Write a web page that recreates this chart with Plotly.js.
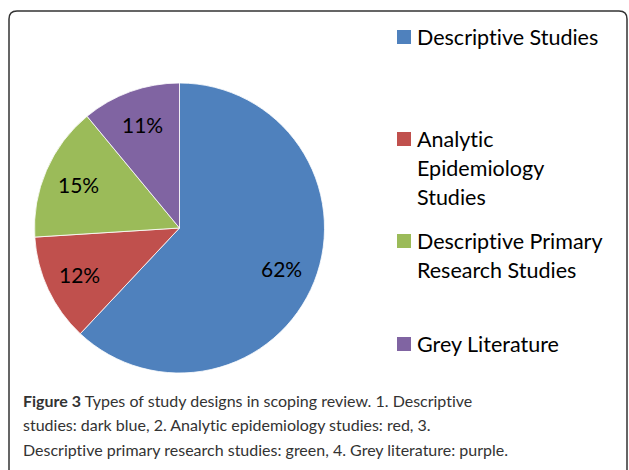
<!DOCTYPE html>
<html>
<head>
<meta charset="utf-8">
<script src="https://cdn.plot.ly/plotly-3.0.1.min.js"></script>
<style>
html,body{margin:0;padding:0;background:#fff;}
#chart{width:629px;height:470px;}
svg text{font-variant-ligatures:none !important;font-feature-settings:"liga" 0,"clig" 0 !important;}
</style>
</head>
<body>
<div id="chart"></div>
<script>
// Data
const categories = ["Descriptive Studies", "Analytic Epidemiology Studies", "Descriptive Primary Research Studies", "Grey Literature"];
const legendLines = [["Descriptive Studies"], ["Analytic", "Epidemiology", "Studies"], ["Descriptive Primary", "Research Studies"], ["Grey Literature"]];
const values = [62, 12, 15, 11];
const colors = ["#4F81BD", "#C0504D", "#9BBB59", "#8064A2"];
const captionLines = [
  "<b>Figure 3</b> Types of study designs in scoping review. 1. Descriptive",
  "studies: dark blue, 2. Analytic epidemiology studies: red, 3.",
  "Descriptive primary research studies: green, 4. Grey literature: purple."
];

const W = 629, H = 470;
const px = x => x / W;
const py = y => 1 - y / H;

// pie geometry (pixels)
const cx = 179.5, cy = 228, r = 145;
const FONT = "Lato, 'Open Sans', sans-serif";

const trace = {
  type: "pie",
  labels: categories,
  values: values,
  sort: false,
  direction: "clockwise",
  rotation: 0,
  marker: {colors: colors, line: {color: "#ffffff", width: 0.8}},
  textinfo: "none",
  domain: {x: [px(cx - r), px(cx + r)], y: [py(cy + r), py(cy - r)]},
  showlegend: false,
  hoverinfo: "label+percent"
};

const shapes = [];
const annotations = [];

// percent labels at mid-angle of each slice
const total = values.reduce((a, b) => a + b, 0);
let acc = 0;
values.forEach((v, i) => {
  const mid = (acc + v / 2) / total * 2 * Math.PI; // clockwise from top
  acc += v;
  const lr = 0.76 * r;
  const x = cx + lr * Math.sin(mid);
  const y = cy - lr * Math.cos(mid);
  annotations.push({xref: "paper", yref: "paper", x: px(x), y: py(y),
    xanchor: "center", yanchor: "middle", showarrow: false,
    text: Math.round(v / total * 100) + "%",
    font: {family: FONT, size: 21, color: "#000"}});
});

// legend
const legendY = [37, 139, 241, 344];
const lineGap = 29;
legendY.forEach((y, i) => {
  shapes.push({type: "rect", xref: "paper", yref: "paper",
    x0: px(397), x1: px(411), y0: py(y + 7), y1: py(y - 7),
    fillcolor: colors[i], line: {width: 0}});
  legendLines[i].forEach((t, j) => {
    annotations.push({xref: "paper", yref: "paper", x: px(415), y: py(y + j * lineGap),
      xanchor: "left", yanchor: "middle", align: "left", showarrow: false,
      text: t, font: {family: FONT, size: 21.5, color: "#000"}});
  });
});

// frame with rounded corners
const L = 9, T = 11, R = 627, B = 476, rr = 8;
const path = `M ${px(L)},${py(B)} L ${px(L)},${py(T + rr)} Q ${px(L)},${py(T)} ${px(L + rr)},${py(T)} L ${px(R - rr)},${py(T)} Q ${px(R)},${py(T)} ${px(R)},${py(T + rr)} L ${px(R)},${py(B)}`;
shapes.push({type: "path", xref: "paper", yref: "paper", path: path,
  line: {color: "#333333", width: 1.5}});

// caption
const capY = [400, 424.5, 449];
captionLines.forEach((t, i) => {
  annotations.push({xref: "paper", yref: "paper", x: px(21), y: py(capY[i]),
    xanchor: "left", yanchor: "middle", align: "left", showarrow: false,
    text: t, font: {family: FONT, size: 16, color: "#333"}});
});

const layout = {
  width: W, height: H,
  margin: {l: 0, r: 0, t: 0, b: 0},
  paper_bgcolor: "#ffffff",
  shapes: shapes,
  annotations: annotations,
  showlegend: false
};

Plotly.newPlot("chart", [trace], layout, {displayModeBar: false, staticPlot: true});
</script>
</body>
</html>
